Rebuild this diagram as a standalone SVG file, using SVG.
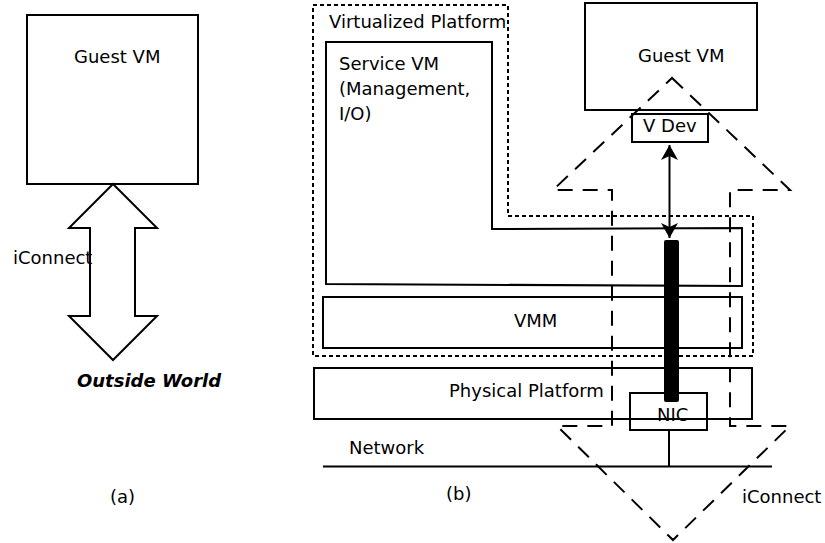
<svg xmlns="http://www.w3.org/2000/svg" width="825" height="543" viewBox="0 0 825 543">
<style>
text{font-family:"DejaVu Sans","Liberation Sans",sans-serif;font-size:18px;fill:#000}
.box{fill:none;stroke:#000;stroke-width:2}
.dot{fill:none;stroke:#000;stroke-width:2;stroke-dasharray:4,3}
.dash{fill:none;stroke:#000;stroke-width:2;stroke-dasharray:15,10}
.conn{fill:none;stroke:#000;stroke-width:2}
</style>
<defs>
<marker id="ah" markerUnits="userSpaceOnUse" viewBox="0 0 16 17" refX="15" refY="8.5" markerWidth="16" markerHeight="17" orient="auto-start-reverse">
<path d="M15,8.5 L0,0 L4,8.5 L0,17 Z" fill="#000"/>
</marker>
</defs>
<rect width="825" height="543" fill="#fff"/>

<!-- (a) -->
<g id="guest-vm-a">
<rect class="box" x="27" y="15" width="171" height="169"/>
<text x="74" y="63">Guest VM</text>
</g>
<g id="iconnect-arrow-a">
<path class="box" d="M113,184 L157,228 L135,228 L135,316 L157,316 L113,360 L69,316 L90,316 L90,228 L69,228 Z"/>
<text x="13" y="264">iConnect</text>
</g>
<g id="outside-world">
<text x="77" y="387" font-weight="bold" font-style="italic">Outside World</text>
</g>
<text x="110" y="503">(a)</text>

<!-- (b) -->
<g id="virtualized-platform">
<path class="dot" d="M313,5 L508,5 L508,216 L753,216 L753,356 L313,356 Z"/>
<text x="329" y="28">Virtualized Platform</text>
</g>
<g id="service-vm">
<path class="box" d="M326,42 L492,42 L492,229 L742,228 L742,286 L326,284 Z"/>
<text x="339" y="70">Service VM</text>
<text x="339" y="95">(Management,</text>
<text x="339" y="120">I/O)</text>
</g>
<g id="vmm">
<rect class="box" x="323" y="297" width="419" height="51"/>
<text x="514" y="327">VMM</text>
</g>
<g id="physical-platform">
<rect class="box" x="314" y="368" width="438" height="51"/>
<text x="449" y="397">Physical Platform</text>
</g>
<g id="guest-vm-b">
<rect class="box" x="585" y="3" width="172" height="107"/>
<text x="638" y="62">Guest VM</text>
</g>
<g id="iconnect-arrow-b">
<path class="dash" d="M672,78 L790,190 L730,190 L730,426 L790,426 L673,540 L557,426 L612,426 L612,190 L553,190 Z"/>
<text x="742" y="503">iConnect</text>
</g>
<g id="v-dev">
<rect class="box" x="632" y="114" width="76" height="28" fill="#fff"/>
<text x="643" y="132">V Dev</text>
</g>
<g id="nic">
<rect class="box" x="630" y="393" width="77" height="37" fill="#fff"/>
<text x="657" y="421">NIC</text>
</g>
<g id="network">
<line class="box" x1="323" y1="466.5" x2="772" y2="466.5"/>
<text x="349" y="454">Network</text>
</g>
<text x="446" y="500">(b)</text>

<g id="connectors">
<line class="conn" x1="669.5" y1="145" x2="669.5" y2="238" marker-start="url(#ah)" marker-end="url(#ah)"/>
<rect x="664" y="240" width="15" height="162" rx="2" fill="#000"/>
<line class="conn" x1="669" y1="430" x2="669" y2="466.5"/>
</g>
</svg>
